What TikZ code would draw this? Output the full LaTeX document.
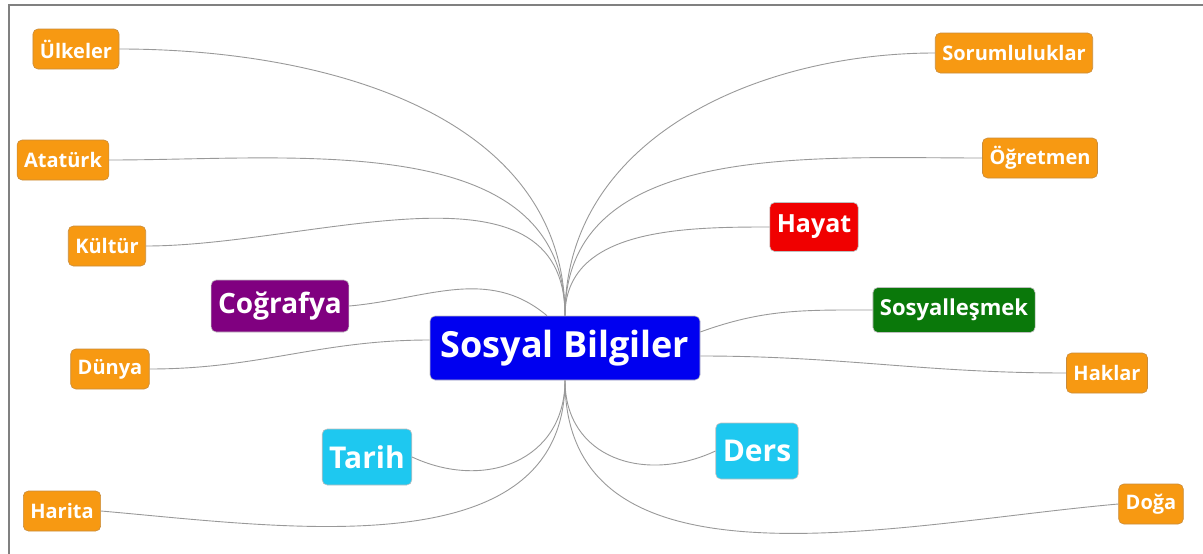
\documentclass[tikz,border=0pt]{standalone}
\usepackage{fontspec}
\setmainfont{Open Sans}
\usepackage{tikz}
\definecolor{leafor}{RGB}{247,153,18}
\definecolor{leafed}{RGB}{200,140,60}
\definecolor{hubblue}{RGB}{0,0,240}
\definecolor{purp}{RGB}{128,0,128}
\definecolor{redd}{RGB}{240,0,0}
\definecolor{grn}{RGB}{10,120,10}
\definecolor{cyann}{RGB}{30,200,240}

\begin{document}
\begin{tikzpicture}[x=1pt,y=-1pt,semithick]
  \tikzstyle{box}=[rectangle,rounded corners=5pt,text=white,inner xsep=7pt,
                   draw=black!25]
  \tikzstyle{leaf}=[box,fill=leafor,draw=leafed,minimum height=40pt,
                    font=\bfseries\fontsize{20}{20}\selectfont]
  \tikzstyle{link}=[draw=black!40,line width=0.9pt]

  \useasboundingbox (0,0) rectangle (1203,554);
  \draw[black!50,line width=1.3pt] (9,560) -- (9,5) -- (1210,5);

  \node[box,fill=hubblue,minimum width=270pt,minimum height=64pt,
        font=\bfseries\fontsize{36}{36}\selectfont] (hub) at (565,348) {Sosyal Bilgiler};

  \node[leaf] (ulke) at (76,49)    {Ülkeler};
  \node[leaf] (atat) at (63,160)   {Atatürk};
  \node[leaf] (kult) at (107,246)  {Kültür};
  \node[box,fill=purp,minimum height=52pt,
        font=\bfseries\fontsize{28}{28}\selectfont] (cogr) at (280,306) {Coğrafya};
  \node[leaf] (duny) at (110,369)  {Dünya};
  \node[box,fill=cyann,minimum height=56pt,
        font=\bfseries\fontsize{30}{30}\selectfont] (tari) at (367,457) {Tarih};
  \node[leaf] (hari) at (62,511)   {Harita};

  \node[leaf] (soru) at (1014,53)  {Sorumluluklar};
  \node[leaf] (ogre) at (1040,158) {Öğretmen};
  \node[box,fill=redd,minimum height=49pt,
        font=\bfseries\fontsize{25}{25}\selectfont] (haya) at (814,227) {Hayat};
  \node[box,fill=grn,minimum height=45pt,
        font=\bfseries\fontsize{22}{22}\selectfont] (sosy) at (954,310) {Sosyalleşmek};
  \node[leaf] (hakl) at (1107,373) {Haklar};
  \node[box,fill=cyann,minimum height=56pt,
        font=\bfseries\fontsize{30}{30}\selectfont] (ders) at (757,451) {Ders};
  \node[leaf] (doga) at (1151,504) {Doğa};

  \path[link]
  % upper branches
  (hub.north) edge[out=90,in=0]   (ulke.east)
  (hub.north) edge[out=90,in=0]   (atat.east)
  (hub.north) edge[out=90,in=0]   (kult.east)
  ([xshift=-18pt]hub.north) edge[out=140,in=5] (cogr.east)
  (hub.north) edge[out=90,in=180] (soru.west)
  (hub.north) edge[out=90,in=180] (ogre.west)
  (hub.north) edge[out=90,in=180] (haya.west)
  % side branches
  ([yshift=8pt]hub.west) edge[out=180,in=0] (duny.east)
  ([yshift=16pt]hub.east) edge[out=20,in=180] (sosy.west)
  ([yshift=-8pt]hub.east) edge[out=0,in=180] (hakl.west)
  % lower branches
  (hub.south) edge[out=-90,in=-25,looseness=1.2] (tari.east)
  (hub.south) edge[out=-90,in=-5]  (hari.east)
  (hub.south) edge[out=-90,in=205,looseness=1.2] (ders.west)
  (hub.south) edge[out=-90,in=185] (doga.west);
\end{tikzpicture}
\end{document}
